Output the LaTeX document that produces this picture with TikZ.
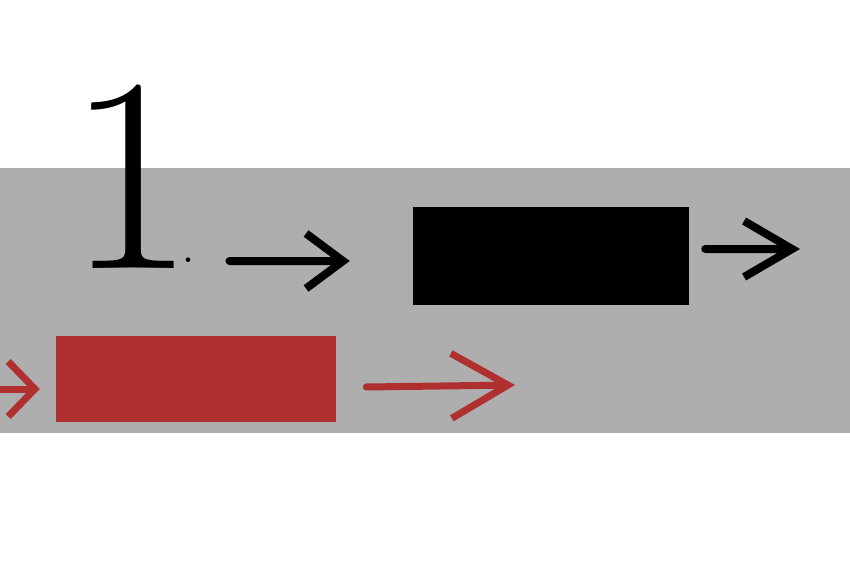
\documentclass[tikz,border=0pt]{standalone}
\usepackage{tikz}
\usetikzlibrary{arrows.meta}
\definecolor{bandgray}{RGB}{174,174,174}
\definecolor{boxred}{RGB}{175,48,47}

\begin{document}
\begin{tikzpicture}[x=0.03cm,y=-0.03cm,
	line cap=round,line join=round,
	blackbox/.style={fill=black,inner sep=0pt,minimum width=8.28cm,minimum height=2.94cm},
	redbox/.style={fill=boxred,inner sep=0pt,minimum width=8.4cm,minimum height=2.58cm},
	blackarrow/.style={draw=black,line width=0.24cm},
	redarrow/.style={draw=boxred,line width=0.21cm}]
	\useasboundingbox (0,0) rectangle (850,567);
	\fill[bandgray] (0,168) rectangle (850,433);
	\node[anchor=base west,inner sep=0pt] (num) at (67,268)
		{{\fontsize{237}{237}\selectfont 1}\kern-0.385cm\raisebox{0.18cm}{\fontsize{48}{48}\selectfont .}};
	\node[blackbox] (blk) at (551,256) {};
	\node[redbox] (red) at (196,379) {};
	\coordinate (out) at (800,249);
	\coordinate (inn) at (0,389);
	\coordinate (redend) at (515,385);
	\draw[blackarrow,-{Straight Barb[length=1.11cm,width=1.65cm]}]
		([shift={(1.0cm,0.21cm)}]num.base east) -- ([shift={(-1.89cm,-0.15cm)}]blk.west);
	\draw[blackarrow,-{Straight Barb[length=1.44cm,width=1.68cm]}]
		([shift={(0.48cm,0.21cm)}]blk.east) -- (out);
	\draw[redarrow,shorten >=0.48cm,-{Straight Barb[length=0.8cm,width=1.65cm]}]
		(inn) -- (inn -| red.west);
	\draw[redarrow,-{Straight Barb[length=1.7cm,width=1.95cm]}]
		([shift={(0.9cm,-0.24cm)}]red.east) -- (redend);
\end{tikzpicture}
\end{document}
